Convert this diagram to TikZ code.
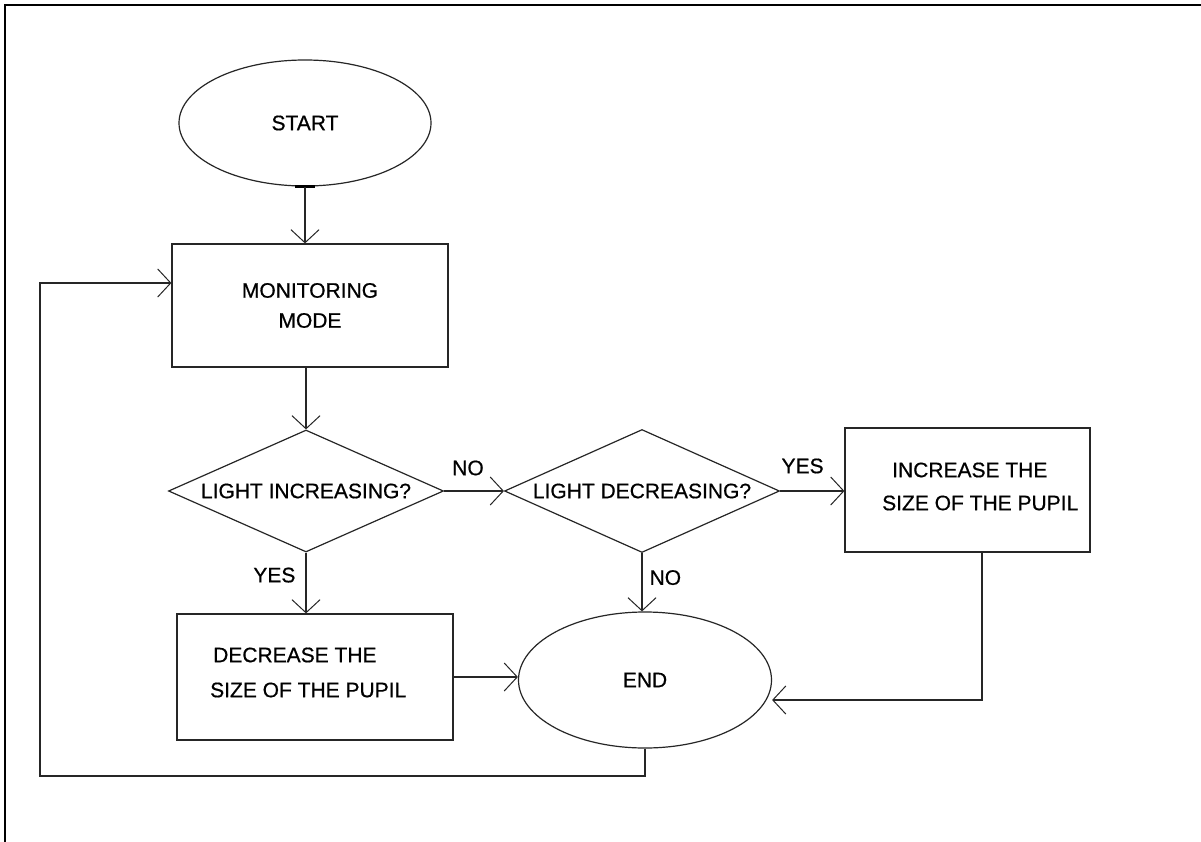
\documentclass[tikz,border=0pt]{standalone}
\usepackage{fontspec}
\setmainfont{Liberation Sans}[FakeBold=0.6]
\usetikzlibrary{shapes.geometric,arrows.meta,calc}
\begin{document}
\begin{tikzpicture}[x=1pt,y=-1pt,
  every node/.style={font=\fontsize{21}{30}\selectfont},
  ln/.style={line width=1.2pt,draw=black!85},
  arr/.style={ln,-{Straight Barb[length=13pt,width=28pt,line width=1pt]}},
  ell/.style={ellipse,ln,inner sep=0pt},
  boxnode/.style={rectangle,ln,inner sep=0pt},
  dia/.style={diamond,ln,inner sep=0pt},
  lbl/.style={inner sep=0pt}
]
\useasboundingbox (0,0) rectangle (1201,842);
\fill[white] (0,0) rectangle (1201,842);
% outer frame (top and left)
\draw[line width=2.2pt] (5,842) -- (5,5) -- (1201,5);

% nodes
\node[ell,minimum width=252pt,minimum height=126pt] (start) at (305,123) {START};
\node[boxnode,minimum width=276pt,minimum height=123pt,align=center] (mon) at (310,305.5) {MONITORING\\MODE};
\node[dia,minimum width=275pt,minimum height=122pt] (d1) at (306,491) {};
\node[lbl] (t1) at (d1.center) {LIGHT INCREASING?};
\node[dia,minimum width=275pt,minimum height=123pt] (d2) at (642,491) {};
\node[lbl] (t2) at (d2.center) {LIGHT DECREASING?};
\node[boxnode,minimum width=245pt,minimum height=124pt] (inc) at (967.5,490) {};
\node[lbl,anchor=west] (inc1) at (892,470) {INCREASE THE};
\node[lbl,anchor=west] (inc2) at (882,503) {SIZE OF THE PUPIL};
\node[boxnode,minimum width=276pt,minimum height=126pt] (dec) at (315,677) {};
\node[lbl,anchor=west] (dec1) at (213,655) {DECREASE THE};
\node[lbl,anchor=west] (dec2) at (210,690) {SIZE OF THE PUPIL};
\node[ell,minimum width=253pt,minimum height=136pt] (end) at (645,680) {END};

% small mark at START bottom
\draw[line width=2.5pt] ($(start.south)+(-10,0)$) -- ($(start.south)+(10,0)$);

% connectors
\draw[arr] (start.south) -- (start.south |- mon.north);
\draw[arr] (mon.south -| d1.north) -- (d1.north);
\draw[arr] (d1.east) -- node[lbl,above=15pt,pos=0.4] {NO} (d2.west);
\draw[arr] (d2.east) -- node[lbl,above=17pt,pos=0.35] {YES} (inc.west |- d2.east);
\draw[arr] (d1.south) -- node[lbl,left=10pt,pos=0.37] {YES} (d1.south |- dec.north);
\draw[arr] (d2.south) -- node[lbl,right=7pt,pos=0.42] {NO} (d2.south |- end.north);
\draw[arr] (dec.east) -- (end.west |- dec.east);
\coordinate (c1) at (982,700);
\draw[arr] (inc.south -| c1) -- (c1) -- (end.east |- c1);
\coordinate (l1) at (645,776);
\coordinate (l2) at (40,776);
\coordinate (l3) at (40,283);
\draw[arr] (end.south) -- (l1) -- (l2) -- (l3) -- (mon.west |- l3);
\end{tikzpicture}
\end{document}
